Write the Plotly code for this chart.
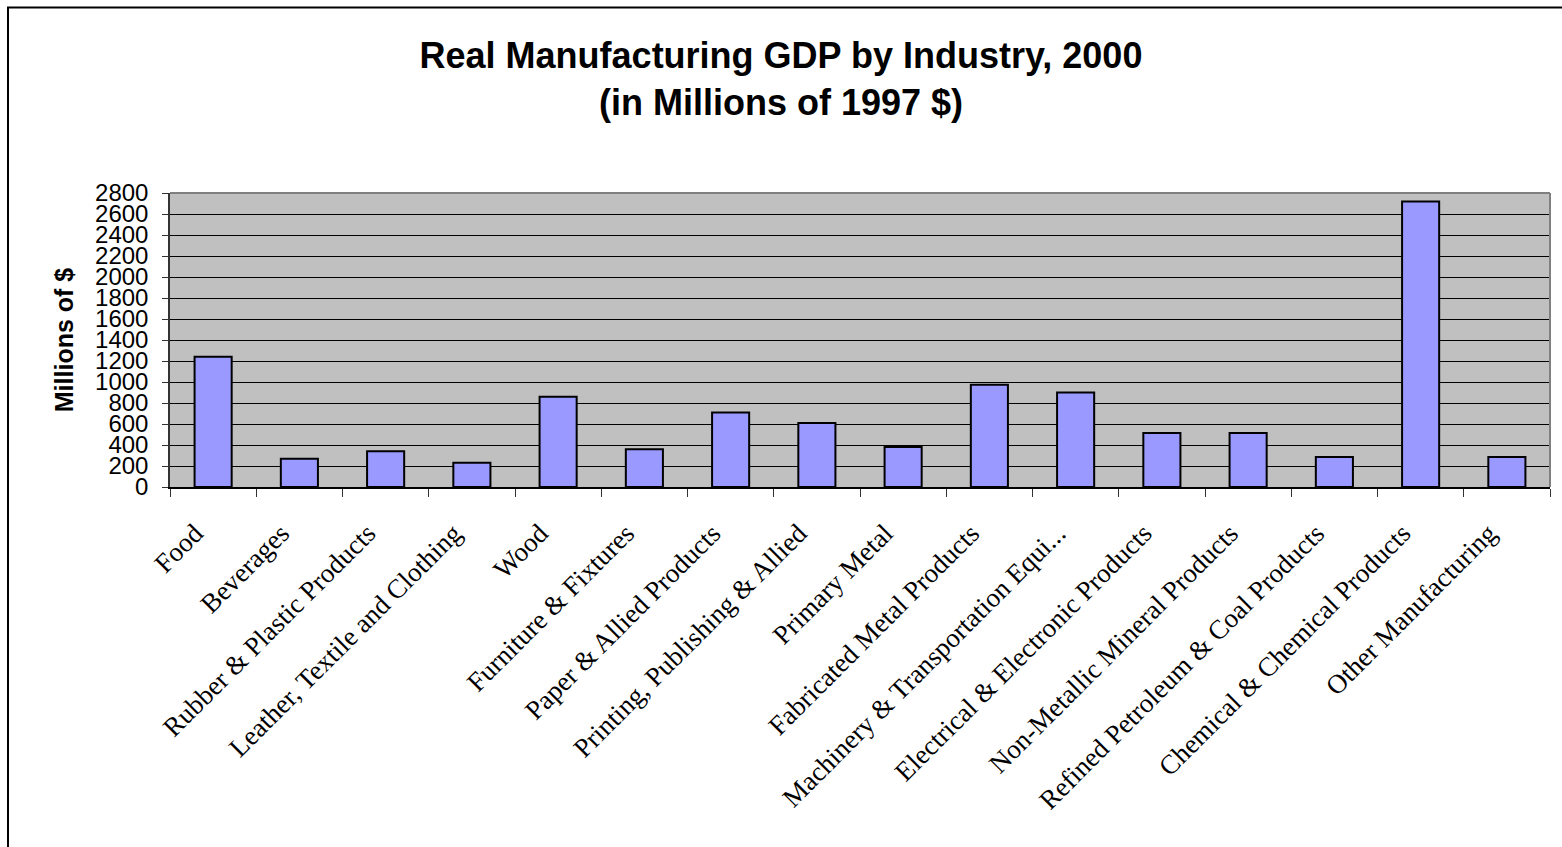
import plotly.graph_objects as go

# Industry categories along the x axis
industries = [
    "Food",
    "Beverages",
    "Rubber & Plastic Products",
    "Leather, Textile and Clothing",
    "Wood",
    "Furniture & Fixtures",
    "Paper & Allied Products",
    "Printing, Publishing & Allied",
    "Primary Metal",
    "Fabricated Metal Products",
    "Machinery & Transportation Equi...",
    "Electrical & Electronic Products",
    "Non-Metallic Mineral Products",
    "Refined Petroleum & Coal Products",
    "Chemical & Chemical Products",
    "Other Manufacturing",
]

# Real GDP, 2000, millions of 1997 dollars
gdp_millions = [1240, 270, 340, 230, 860, 360, 710, 610, 380, 975, 900, 515, 515, 285, 2720, 285]

# Y axis ticks
y_ticks = list(range(0, 2801, 200))

W, H = 1562, 847
ML, MR, MT, MB = 170, 12, 193, 360
pw, ph = W - ML - MR, H - MT - MB

fig = go.Figure(
    go.Bar(
        x=industries,
        y=gdp_millions,
        marker=dict(color="#9999FF", line=dict(color="black", width=2)),
    )
)

# outer chart frame (runs off the right and bottom edges of the page)
fx0 = (8 - ML) / pw
fy1 = 1 + (MT - 7.5) / ph
fig.add_shape(type="rect", xref="paper", yref="paper", x0=fx0, x1=1.05, y0=-1.5, y1=fy1,
              line=dict(color="black", width=2), layer="below")
# grey top and right edges of the plot area
fig.add_shape(type="line", xref="paper", yref="paper", x0=0, x1=1, y0=1, y1=1,
              line=dict(color="#808080", width=2), layer="above")
fig.add_shape(type="line", xref="paper", yref="paper", x0=1, x1=1, y0=0, y1=1,
              line=dict(color="#808080", width=2), layer="above")

fig.update_layout(
    width=W,
    height=H,
    margin=dict(l=ML, r=MR, t=MT, b=MB, pad=0),
    paper_bgcolor="white",
    plot_bgcolor="#C0C0C0",
    showlegend=False,
    bargap=0.57,
    title=dict(
        text="<b>Real Manufacturing GDP by Industry, 2000<br>(in Millions of 1997 $)</b>",
        x=0.5,
        xref="container",
        xanchor="center",
        y=1 - 68 / H,
        yref="container",
        yanchor="top",
        font=dict(family="Liberation Sans, Arial, sans-serif", size=36, color="black"),
    ),
)

fig.update_xaxes(
    type="category",
    tickson="boundaries",
    ticks="outside",
    ticklen=8,
    tickcolor="#333333",
    tickwidth=1,
    showline=True,
    linecolor="black",
    linewidth=1.5,
    showgrid=False,
    tickangle=-45,
    ticklabelstandoff=18,
    ticklabelshift=-18,
    tickfont=dict(family="Liberation Serif, Times New Roman, serif", size=27, color="black"),
)

fig.update_yaxes(
    range=[0, 2800],
    tickmode="array",
    tickvals=y_ticks,
    ticktext=[str(v) for v in y_ticks],
    ticks="outside",
    ticklen=6,
    tickcolor="#333333",
    ticklabelstandoff=9,
    showline=True,
    linecolor="#333333",
    linewidth=1.5,
    showgrid=True,
    gridcolor="black",
    gridwidth=1,
    zeroline=False,
    tickfont=dict(family="Liberation Sans, Arial, sans-serif", size=24, color="black"),
    title=dict(
        text="<b>Millions of $</b>",
        font=dict(family="Liberation Sans, Arial, sans-serif", size=25, color="black"),
        standoff=14,
    ),
)

fig.write_html("out.html")
